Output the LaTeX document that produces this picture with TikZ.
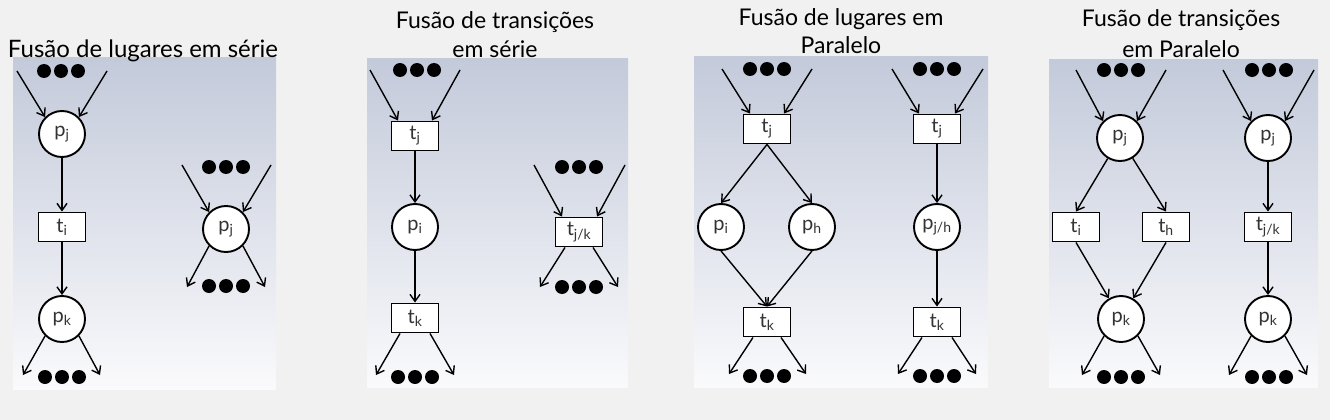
\documentclass[tikz,border=0pt]{standalone}
\usepackage{fontspec}
\setmainfont{Lato}
\usetikzlibrary{arrows.meta}

\definecolor{fundo}{HTML}{F1F1F1}
\definecolor{painelTopo}{HTML}{C3CADA}
\definecolor{painelBase}{HTML}{FAFAFC}
\definecolor{cinzaRotulo}{HTML}{333333}

% tres fichas pretas
\newcommand{\tresfichas}[2]{\foreach \dx in {-17,0,17} {\fill (#1+\dx,#2) circle (7pt);}}

\begin{document}
\begin{tikzpicture}[x=1pt, y=-1pt,
    lugar/.style={draw, circle, fill=white, line width=1.9pt, minimum size=46pt, inner sep=0pt,
        text=cinzaRotulo, font=\fontsize{20}{20}\selectfont},
    transicao/.style={draw, rectangle, fill=white, line width=1.9pt, minimum width=47pt, minimum height=29pt,
        inner sep=0pt, text=cinzaRotulo, font=\fontsize{20}{20}\selectfont},
    arco/.style={line width=1.4pt, -{Straight Barb[length=7pt, width=10pt]}},
    painel/.style={top color=painelTopo, bottom color=painelBase},
    titulo/.style={align=center, font=\fontsize{23}{29}\selectfont}]
    \useasboundingbox (0,0) rectangle (1330,420);
    \fill[fundo] (0,0) rectangle (1330,420);

    % paineis
    \shade[painel] (13,58) rectangle (276,389);
    \shade[painel] (367,59) rectangle (628,387);
    \shade[painel] (694,57) rectangle (988,387);
    \shade[painel] (1049,60) rectangle (1318,387);

    % titulos (ancorados na ultima linha)
    \node[titulo, anchor=base, font=\fontsize{24}{29}\selectfont] (tit1) at (143,57) {Fusão de lugares em série};
    \node[titulo, anchor=base] (tit2) at (495,58) {Fusão de transições\\em série};
    \node[titulo, anchor=base, font=\fontsize{23}{28}\selectfont] (tit3) at (841,53) {Fusão de lugares em\\Paralelo};
    \node[titulo, anchor=base, font=\fontsize{23}{31}\selectfont] (tit4) at (1181,57) {Fusão de transições\\em Paralelo};

    % Fusao de lugares em serie
    \node[lugar] (pj1) at (62,134) {p\textsubscript{j}};
    \node[transicao] (ti1) at (62,227) {t\textsubscript{i}};
    \node[lugar] (pk1) at (62,319) {p\textsubscript{k}};
    \coordinate (a1) at (17,71);
    \coordinate (a2) at (107,71);
    \coordinate (a3) at (23,375);
    \coordinate (a4) at (100,375);
    \tresfichas{61}{71}
    \tresfichas{62}{377}
    \draw[arco] (a1) -- (pj1.135);
    \draw[arco] (a2) -- (pj1.45);
    \draw[arco] (pj1) -- (ti1);
    \draw[arco] (ti1) -- (pk1);
    \draw[arco] (pk1.-135) -- (a3);
    \draw[arco] (pk1.-45) -- (a4);

    \node[lugar] (pj2) at (226,229) {p\textsubscript{j}};
    \coordinate (a5) at (182,165);
    \coordinate (a6) at (271,165);
    \coordinate (a7) at (187,287);
    \coordinate (a8) at (265,287);
    \tresfichas{226}{167}
    \tresfichas{226}{286}
    \draw[arco] (a5) -- (pj2.135);
    \draw[arco] (a6) -- (pj2.45);
    \draw[arco] (pj2.-135) -- (a7);
    \draw[arco] (pj2.-45) -- (a8);

    % Fusao de transicoes em serie
    \node[transicao] (ti2) at (415,136) {t\textsubscript{j}};
    \node[lugar] (pi2) at (415,227) {p\textsubscript{i}};
    \node[transicao] (tk2) at (415,318) {t\textsubscript{k}};
    \coordinate (b1) at (370,70);
    \coordinate (b2) at (460,70);
    \coordinate (b3) at (376,375);
    \coordinate (b4) at (454,375);
    \tresfichas{417}{70}
    \tresfichas{415}{377}
    \draw[arco] (b1) -- ([xshift=-17pt]ti2.north);
    \draw[arco] (b2) -- ([xshift=17pt]ti2.north);
    \draw[arco] (ti2) -- (pi2);
    \draw[arco] (pi2) -- (tk2);
    \draw[arco] ([xshift=-15pt]tk2.south) -- (b3);
    \draw[arco] ([xshift=15pt]tk2.south) -- (b4);

    \node[transicao] (tjk2) at (579,232) {t\textsubscript{j/k}};
    \coordinate (b5) at (534,165);
    \coordinate (b6) at (625,165);
    \coordinate (b7) at (540,287);
    \coordinate (b8) at (618,287);
    \tresfichas{579}{167}
    \tresfichas{579}{287}
    \draw[arco] (b5) -- ([xshift=-17pt]tjk2.north);
    \draw[arco] (b6) -- ([xshift=18pt]tjk2.north);
    \draw[arco] ([xshift=-14pt]tjk2.south) -- (b7);
    \draw[arco] ([xshift=14pt]tjk2.south) -- (b8);

    % Fusao de lugares em paralelo
    \node[transicao] (tj3) at (767,129) {t\textsubscript{j}};
    \node[lugar] (pi3) at (721,227) {p\textsubscript{i}};
    \node[lugar] (ph3) at (812,227) {p\textsubscript{h}};
    \node[transicao] (tk3) at (767,322) {t\textsubscript{k}};
    \coordinate (c1) at (722,69);
    \coordinate (c2) at (812,69);
    \coordinate (c3) at (729,374);
    \coordinate (c4) at (806,374);
    \tresfichas{767}{69}
    \tresfichas{767}{376}
    \draw[arco] (c1) -- ([xshift=-17pt]tj3.north);
    \draw[arco] (c2) -- ([xshift=17pt]tj3.north);
    \draw[arco] (tj3.south) -- (pi3.north);
    \draw[arco] (tj3.south) -- (ph3.north);
    \draw[arco] (pi3.south) -- (tk3.north);
    \draw[arco] (ph3.south) -- (tk3.north);
    \draw[arco] ([xshift=-14pt]tk3.south) -- (c3);
    \draw[arco] ([xshift=14pt]tk3.south) -- (c4);

    \node[transicao] (tj4) at (937,129) {t\textsubscript{j}};
    \node[lugar] (pjh3) at (937,227) {p\textsubscript{j/h}};
    \node[transicao] (tk4) at (937,322) {t\textsubscript{k}};
    \coordinate (c5) at (892,69);
    \coordinate (c6) at (983,69);
    \coordinate (c7) at (898,374);
    \coordinate (c8) at (976,374);
    \tresfichas{937}{69}
    \tresfichas{937}{376}
    \draw[arco] (c5) -- ([xshift=-18pt]tj4.north);
    \draw[arco] (c6) -- ([xshift=18pt]tj4.north);
    \draw[arco] (tj4) -- (pjh3);
    \draw[arco] (pjh3) -- (tk4);
    \draw[arco] ([xshift=-15pt]tk4.south) -- (c7);
    \draw[arco] ([xshift=15pt]tk4.south) -- (c8);

    % Fusao de transicoes em paralelo
    \node[lugar] (pj4) at (1120,138) {p\textsubscript{j}};
    \node[transicao] (ti4) at (1076,227) {t\textsubscript{i}};
    \node[transicao] (th4) at (1166,227) {t\textsubscript{h}};
    \node[lugar] (pk4) at (1121,319) {p\textsubscript{k}};
    \coordinate (d1) at (1076,70);
    \coordinate (d2) at (1166,70);
    \coordinate (d3) at (1082,375);
    \coordinate (d4) at (1160,375);
    \tresfichas{1121}{70}
    \tresfichas{1121}{377}
    \draw[arco] (d1) -- (pj4.135);
    \draw[arco] (d2) -- (pj4.45);
    \draw[arco] (pj4) -- (ti4.north);
    \draw[arco] (pj4) -- (th4.north);
    \draw[arco] (ti4.south) -- (pk4);
    \draw[arco] (th4.south) -- (pk4);
    \draw[arco] (pk4.-135) -- (d3);
    \draw[arco] (pk4.-45) -- (d4);

    \node[lugar] (pj5) at (1268,138) {p\textsubscript{j}};
    \node[transicao] (tjk4) at (1268,227) {t\textsubscript{j/k}};
    \node[lugar] (pk5) at (1268,319) {p\textsubscript{k}};
    \coordinate (d5) at (1223,70);
    \coordinate (d6) at (1314,70);
    \coordinate (d7) at (1229,375);
    \coordinate (d8) at (1307,375);
    \tresfichas{1269}{70}
    \tresfichas{1269}{377}
    \draw[arco] (d5) -- (pj5.135);
    \draw[arco] (d6) -- (pj5.45);
    \draw[arco] (pj5) -- (tjk4);
    \draw[arco] (tjk4) -- (pk5);
    \draw[arco] (pk5.-135) -- (d7);
    \draw[arco] (pk5.-45) -- (d8);
\end{tikzpicture}
\end{document}
